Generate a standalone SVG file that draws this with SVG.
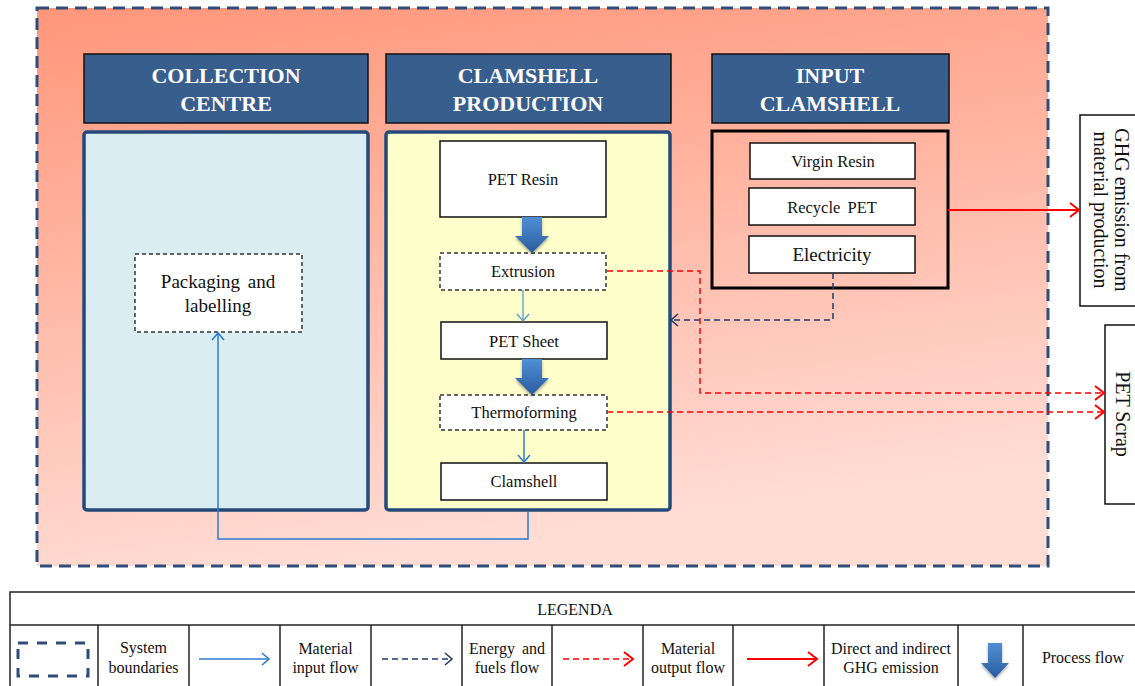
<svg xmlns="http://www.w3.org/2000/svg" width="1135" height="686" viewBox="0 0 1135 686">
<defs>
<linearGradient id="bg" x1="0" y1="0" x2="0.25" y2="1">
<stop offset="0" stop-color="#FF967A"/>
<stop offset="1" stop-color="#FFDCD4"/>
</linearGradient>
<linearGradient id="pf" x1="0" y1="0" x2="0" y2="1">
<stop offset="0" stop-color="#4F8FD6"/>
<stop offset="1" stop-color="#2A5C9E"/>
</linearGradient>
<marker id="mBlue" markerUnits="userSpaceOnUse" markerWidth="16" markerHeight="16" refX="10" refY="8" orient="auto">
<path d="M3,2 L10,8 L3,14" fill="none" stroke="#2E7BCF" stroke-width="1.6"/>
</marker>
<marker id="mLBlue" markerUnits="userSpaceOnUse" markerWidth="16" markerHeight="16" refX="10" refY="8" orient="auto">
<path d="M3,2 L10,8 L3,14" fill="none" stroke="#5B9BD5" stroke-width="1.4"/>
</marker>
<marker id="mNavy" markerUnits="userSpaceOnUse" markerWidth="16" markerHeight="16" refX="10" refY="8" orient="auto">
<path d="M3,2 L10,8 L3,14" fill="none" stroke="#1F3A6E" stroke-width="1.6"/>
</marker>
<marker id="mRed" markerUnits="userSpaceOnUse" markerWidth="18" markerHeight="18" refX="12" refY="9" orient="auto">
<path d="M3,2 L12,9 L3,16" fill="none" stroke="#FF0000" stroke-width="2"/>
</marker>
<filter id="sh" x="-30%" y="-30%" width="160%" height="160%">
<feGaussianBlur in="SourceAlpha" stdDeviation="1.5"/>
<feOffset dx="0" dy="2" result="b"/>
<feComponentTransfer><feFuncA type="linear" slope="0.35"/></feComponentTransfer>
<feMerge><feMergeNode/><feMergeNode in="SourceGraphic"/></feMerge>
</filter>
</defs>
<style>
.hdr{fill:#385E8E;stroke:#111;stroke-width:1.5}
.htx{font-family:"Liberation Serif",serif;font-weight:bold;font-size:22px;fill:#fff;text-anchor:middle}
.body{stroke:#254A7A;stroke-width:3.5}
.node{fill:#fff;stroke:#111;stroke-width:1.5}
.dnode{fill:#fff;stroke:#333;stroke-width:1.5;stroke-dasharray:4 3}
.t{font-family:"Liberation Serif",serif;font-size:16.5px;fill:#111;text-anchor:middle}
.lt{font-family:"Liberation Serif",serif;font-size:16px;fill:#111;text-anchor:middle}
.cell{stroke:#222;stroke-width:1.5;fill:none}
.pa{fill:url(#pf);filter:url(#sh)}
</style>

<g id="system-boundary">
<rect x="37" y="8" width="1011" height="558" fill="url(#bg)" stroke="#2E4D7B" stroke-width="3" stroke-dasharray="12 7"/>
</g>

<g id="collection-centre">
<rect class="hdr" x="84" y="54" width="284" height="69"/>
<text class="htx" x="226" y="83">COLLECTION</text>
<text class="htx" x="226" y="111">CENTRE</text>
<rect class="body" x="84" y="132" width="284" height="378" rx="3" fill="#DAEDF3"/>
</g>

<g id="clamshell-production">
<rect class="hdr" x="386" y="54" width="285" height="69"/>
<text class="htx" x="528" y="83">CLAMSHELL</text>
<text class="htx" x="528" y="111">PRODUCTION</text>
<rect class="body" x="386" y="132" width="284" height="378" rx="3" fill="#FFFFCC"/>
</g>

<g id="input-clamshell">
<rect class="hdr" x="712" y="54" width="237" height="69"/>
<text class="htx" x="830" y="83">INPUT</text>
<text class="htx" x="830" y="111">CLAMSHELL</text>
<rect x="712" y="131" width="236" height="157" fill="none" stroke="#000" stroke-width="3"/>
</g>

<g id="packaging">
<rect class="dnode" x="135" y="254" width="167" height="78"/>
<text class="t" x="218" y="288" style="font-size:19px" word-spacing="3">Packaging and</text>
<text class="t" x="218" y="312" style="font-size:19px">labelling</text>
</g>

<g id="pet-resin">
<rect class="node" x="440" y="141" width="166" height="76"/>
<text class="t" x="523" y="185">PET Resin</text>
</g>
<g id="extrusion">
<rect class="dnode" x="440" y="253" width="166" height="37"/>
<text class="t" x="523" y="277">Extrusion</text>
</g>
<g id="pet-sheet">
<rect class="node" x="441" y="322" width="166" height="37"/>
<text class="t" x="524" y="347">PET Sheet</text>
</g>
<g id="thermoforming">
<rect class="dnode" x="440" y="395" width="167" height="35"/>
<text class="t" x="524" y="418">Thermoforming</text>
</g>
<g id="clamshell">
<rect class="node" x="441" y="463" width="166" height="37"/>
<text class="t" x="524" y="487">Clamshell</text>
</g>

<g id="virgin-resin">
<rect class="node" x="750" y="143" width="165" height="36"/>
<text class="t" x="833" y="167">Virgin Resin</text>
</g>
<g id="recycle-pet">
<rect class="node" x="749" y="188" width="166" height="37"/>
<text class="t" x="832" y="213" word-spacing="3">Recycle PET</text>
</g>
<g id="electricity">
<rect class="node" x="749" y="236" width="166" height="37"/>
<text class="t" x="832" y="261" style="font-size:19px">Electricity</text>
</g>

<g id="ghg-emission">
<rect x="1080" y="115" width="60" height="191" fill="#fff" stroke="#111" stroke-width="1.5"/>
<text class="t" style="font-size:20px" transform="translate(1115,210) rotate(90)" x="0" y="0">GHG emission from</text>
<text class="t" style="font-size:20px" transform="translate(1094,210) rotate(90)" x="0" y="0">material production</text>
</g>

<g id="pet-scrap">
<rect x="1105" y="325" width="40" height="179" fill="#fff" stroke="#111" stroke-width="1.5"/>
<text class="t" style="font-size:20px" transform="translate(1116,414) rotate(90)" x="0" y="0">PET Scrap</text>
</g>

<g id="connectors">
<path class="pa" d="M522,217 H542 V236 H549 L532,253 L515,236 H522 Z"/>
<path class="pa" d="M522,359 H542 V378 H549 L532,395 L515,378 H522 Z"/>
<path d="M523,290 V321" fill="none" stroke="#5B9BD5" stroke-width="1.3" marker-end="url(#mLBlue)"/>
<path d="M524,430 V462" fill="none" stroke="#2E7BCF" stroke-width="1.5" marker-end="url(#mBlue)"/>
<path d="M528,511 V539 H218 V333" fill="none" stroke="#2E7BCF" stroke-width="1.5" marker-end="url(#mBlue)"/>
<path d="M833,273 V320 H671" fill="none" stroke="#1F3A6E" stroke-width="1.5" stroke-dasharray="6 4" marker-end="url(#mNavy)"/>
<path d="M607,271 H700 V393 H1104" fill="none" stroke="#FF0000" stroke-width="1.5" stroke-dasharray="6 4" marker-end="url(#mRed)"/>
<path d="M607,412 H1104" fill="none" stroke="#FF0000" stroke-width="1.5" stroke-dasharray="6 4" marker-end="url(#mRed)"/>
<path d="M948,210 H1079" fill="none" stroke="#FF0000" stroke-width="2" marker-end="url(#mRed)"/>
</g>

<g id="legend">
<rect x="10" y="592" width="1135" height="100" fill="#fff" stroke="#222" stroke-width="1.5"/>
<line class="cell" x1="10" y1="625" x2="1135" y2="625"/>
<text class="lt" x="575" y="615">LEGENDA</text>
<g class="cell">
<line x1="98" y1="625" x2="98" y2="686"/>
<line x1="189" y1="625" x2="189" y2="686"/>
<line x1="280" y1="625" x2="280" y2="686"/>
<line x1="371" y1="625" x2="371" y2="686"/>
<line x1="462" y1="625" x2="462" y2="686"/>
<line x1="552" y1="625" x2="552" y2="686"/>
<line x1="643" y1="625" x2="643" y2="686"/>
<line x1="733" y1="625" x2="733" y2="686"/>
<line x1="824" y1="625" x2="824" y2="686"/>
<line x1="958" y1="625" x2="958" y2="686"/>
<line x1="1023" y1="625" x2="1023" y2="686"/>
</g>
<rect x="18" y="643" width="70" height="33" fill="none" stroke="#2E4D7B" stroke-width="3" stroke-dasharray="10 9"/>
<text class="lt" x="143.5" y="653">System</text>
<text class="lt" x="143.5" y="673">boundaries</text>
<path d="M199,659 H269" fill="none" stroke="#2E7BCF" stroke-width="1.5" marker-end="url(#mBlue)"/>
<text class="lt" x="325.5" y="654">Material</text>
<text class="lt" x="325.5" y="673">input flow</text>
<path d="M382,659 H452" fill="none" stroke="#1F3A6E" stroke-width="1.5" stroke-dasharray="6 4" marker-end="url(#mNavy)"/>
<text class="lt" x="507" y="654" word-spacing="3">Energy and</text>
<text class="lt" x="507" y="673">fuels flow</text>
<path d="M563,659 H633" fill="none" stroke="#FF0000" stroke-width="1.5" stroke-dasharray="6 4" marker-end="url(#mRed)"/>
<text class="lt" x="688" y="654">Material</text>
<text class="lt" x="688" y="673">output flow</text>
<path d="M747,659 H817" fill="none" stroke="#FF0000" stroke-width="2" marker-end="url(#mRed)"/>
<text class="lt" x="891" y="654">Direct and indirect</text>
<text class="lt" x="891" y="673">GHG emission</text>
<path class="pa" d="M988,643 H1002 V663 H1009 L995,678 L981,663 H988 Z"/>
<text class="lt" x="1083" y="663">Process flow</text>
</g>
</svg>
